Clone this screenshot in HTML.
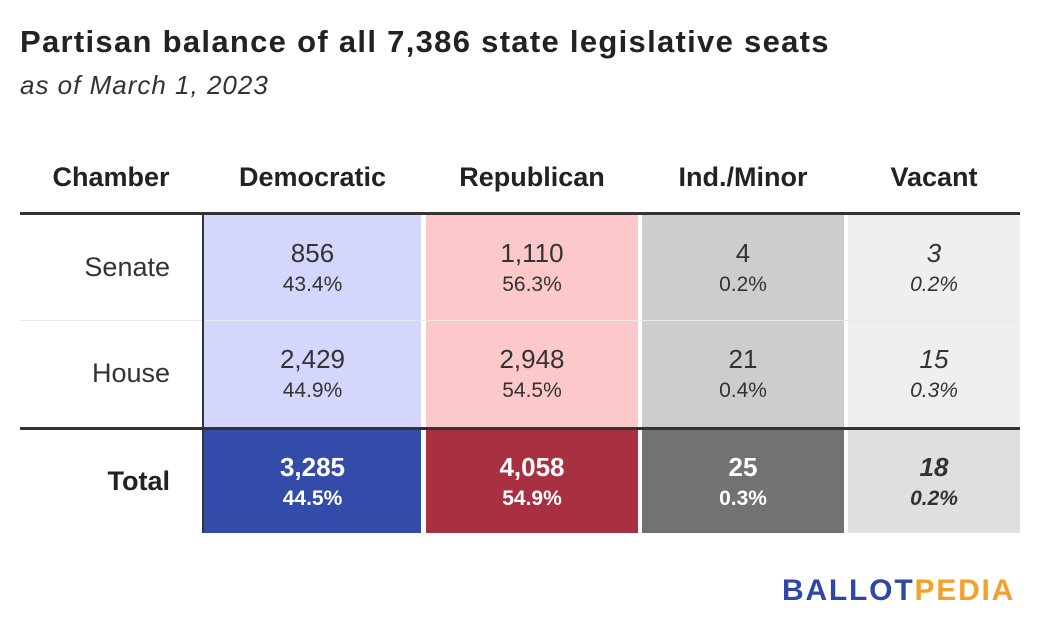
<!DOCTYPE html>
<html><head><meta charset="utf-8"><style>
body{margin:0;width:1040px;height:636px;background:#fff;font-family:"Liberation Sans",sans-serif;color:#333;position:relative;overflow:hidden}
.a{position:absolute}
.title{left:20px;top:24px;font-size:31px;font-weight:bold;color:#222;letter-spacing:1.3px}
.sub{left:20px;top:70px;font-size:26px;font-style:italic;color:#333;letter-spacing:1px}
.hd{top:160px;font-size:27px;font-weight:bold;color:#222;text-align:center;height:34px;line-height:34px}
.cell{text-align:center;box-sizing:border-box}
.n{font-size:26px;line-height:30px}
.p{font-size:21px;line-height:34px}
.lbl{font-size:27px;text-align:right}
</style></head><body>
<div class="a title">Partisan balance of all 7,386 state legislative seats</div>
<div class="a sub">as of March 1, 2023</div>
<div id="tbl"></div>
<div class="a" style="left:782px;top:574px;font-size:30px;font-weight:bold;letter-spacing:1.8px"><span style="color:#3147a8">BALLOT</span><span style="color:#f2a22a">PEDIA</span></div>
<script>
const columns=["Democratic","Republican","Ind./Minor","Vacant"];
const rows=["Senate","House","Total"];
const senateSeats=[856,1110,4,3];
const houseSeats=[2429,2948,21,15];
const totalSeats=[3285,4058,25,18];
const senatePct=[43.4,56.3,0.2,0.2];
const housePct=[44.9,54.5,0.4,0.3];
const totalPct=[44.5,54.9,0.3,0.2];
const seats=[senateSeats,houseSeats,totalSeats];
const pcts=[senatePct,housePct,totalPct];
const colX=[[204,421],[426,638],[642,844],[848,1020]];
const rowY=[[215,320],[321,427],[430,533]];
const fills=[["#d4d6fc","#fdc8ca","#cdcdcd","#efefef"],["#d4d6fc","#fdc8ca","#cdcdcd","#efefef"],["#334ba9","#a93040","#727272","#dfdfdf"]];
const tcol=[["#333","#333","#333","#333"],["#333","#333","#333","#333"],["#fff","#fff","#fff","#333"]];
const t=document.getElementById('tbl');
function mk(cls,css,html){const d=document.createElement('div');d.className='a '+cls;d.style.cssText=css;if(html!==undefined)d.innerHTML=html;t.appendChild(d);return d;}
let h=mk('hd cell','left:20px;width:182px;','Chamber');


columns.forEach((c,i)=>{const e=mk('hd cell',`left:${colX[i][0]}px;width:${colX[i][1]-colX[i][0]}px;`,c);

});
rows.forEach((r,ri)=>{
 const [y0,y1]=rowY[ri];
 const l=mk('lbl',`left:20px;width:150px;top:${(y0+y1)/2-16}px;${ri==2?'font-weight:bold;color:#222;':''}`,r);
 
 
 columns.forEach((c,ci)=>{
  const [x0,x1]=colX[ci];
  const st=(ri==2?'font-weight:bold;':'')+(ci==3?'font-style:italic;':'');
  const e=mk('cell',`left:${x0}px;top:${y0}px;width:${x1-x0}px;height:${y1-y0}px;background:${fills[ri][ci]};color:${tcol[ri][ci]};padding-top:${(y1-y0)/2-30}px;${st}`,
   `<div class="n">${seats[ri][ci].toLocaleString('en-US')}</div><div class="p">${pcts[ri][ci].toFixed(1)}%</div>`);
  
  
 });
});
let ln=mk('', 'left:20px;top:212px;width:1000px;height:3px;background:#333;');


ln=mk('', 'left:20px;top:320px;width:1000px;height:1px;background:#e2e2e2;opacity:.8');


ln=mk('', 'left:20px;top:427px;width:1000px;height:3px;background:#333;');


ln=mk('', 'left:202px;top:215px;width:2px;height:318px;background:#333;');


</script>
</body></html>
